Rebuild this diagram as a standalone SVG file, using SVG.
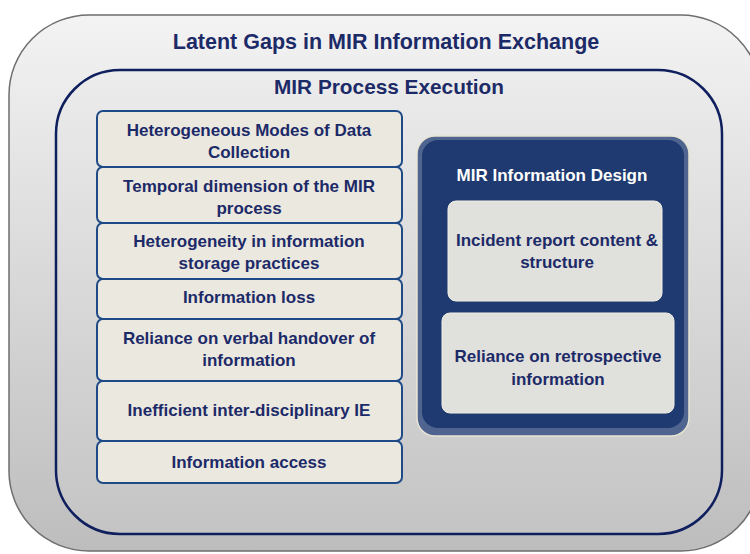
<svg xmlns="http://www.w3.org/2000/svg" width="750" height="554" viewBox="0 0 750 554">
<defs>
<linearGradient id="gOuter" x1="0" y1="0" x2="0" y2="1">
<stop offset="0" stop-color="#f3f3f3"/>
<stop offset="1" stop-color="#bdbdbd"/>
</linearGradient>
<linearGradient id="gInner" x1="0" y1="0" x2="0" y2="1">
<stop offset="0" stop-color="#ececec"/>
<stop offset="1" stop-color="#c4c4c4"/>
</linearGradient>
<style>
.t{font-family:"Liberation Sans",Arial,sans-serif;font-weight:bold;fill:#1c2a68;text-anchor:middle;font-size:17px}
.item{fill:#ebe8e0;stroke:#1f4a88;stroke-width:2}
.sub{fill:#e0e0dc;stroke:#f2efe4;stroke-width:1}
</style>
</defs>
<g id="outer">
<rect x="9" y="15" width="752" height="536" rx="80" fill="url(#gOuter)" stroke="#6e6e6e" stroke-width="1.5"/>
<text class="t" x="386" y="49" style="font-size:21.5px">Latent Gaps in MIR Information Exchange</text>
</g>
<g id="process">
<rect x="56" y="70" width="666" height="464" rx="64" fill="url(#gInner)" stroke="#0f1f5e" stroke-width="2.5"/>
<text class="t" x="389" y="94" style="font-size:20.8px">MIR Process Execution</text>
</g>
<g id="n1"><rect class="item" x="97" y="111" width="305" height="56" rx="6"/><text class="t" x="249" y="136">Heterogeneous Modes of Data</text><text class="t" x="249" y="158">Collection</text></g>
<g id="n2"><rect class="item" x="97" y="167" width="305" height="56" rx="6"/><text class="t" x="249" y="192">Temporal dimension of the MIR</text><text class="t" x="249" y="214">process</text></g>
<g id="n3"><rect class="item" x="97" y="223" width="305" height="56" rx="6"/><text class="t" x="249" y="247">Heterogeneity in information</text><text class="t" x="249" y="269">storage practices</text></g>
<g id="n4"><rect class="item" x="97" y="279" width="305" height="40" rx="6"/><text class="t" x="249" y="303">Information loss</text></g>
<g id="n5"><rect class="item" x="97" y="319" width="305" height="62" rx="6"/><text class="t" x="249" y="344">Reliance on verbal handover of</text><text class="t" x="249" y="366">information</text></g>
<g id="n6"><rect class="item" x="97" y="381" width="305" height="60" rx="6"/><text class="t" x="249" y="416">Inefficient inter-disciplinary IE</text></g>
<g id="n7"><rect class="item" x="97" y="441" width="305" height="42" rx="6"/><text class="t" x="249" y="468">Information access</text></g>
<g id="design">
<rect x="417" y="136" width="272" height="300" rx="18" fill="#4f6590" stroke="#e8e4d4" stroke-width="1.5"/>
<rect x="422" y="140" width="262" height="288" rx="16" fill="#1f3a70"/>
<text class="t" x="552" y="181" style="fill:#ffffff">MIR Information Design</text>
</g>
<g id="d1"><rect class="sub" x="448" y="201" width="214" height="100" rx="8"/><text class="t" x="557" y="246">Incident report content &amp;</text><text class="t" x="557" y="268">structure</text></g>
<g id="d2"><rect class="sub" x="442" y="313" width="232" height="100" rx="8"/><text class="t" x="558" y="362">Reliance on retrospective</text><text class="t" x="558" y="385">information</text></g>
<g id="connectors"/>
</svg>
